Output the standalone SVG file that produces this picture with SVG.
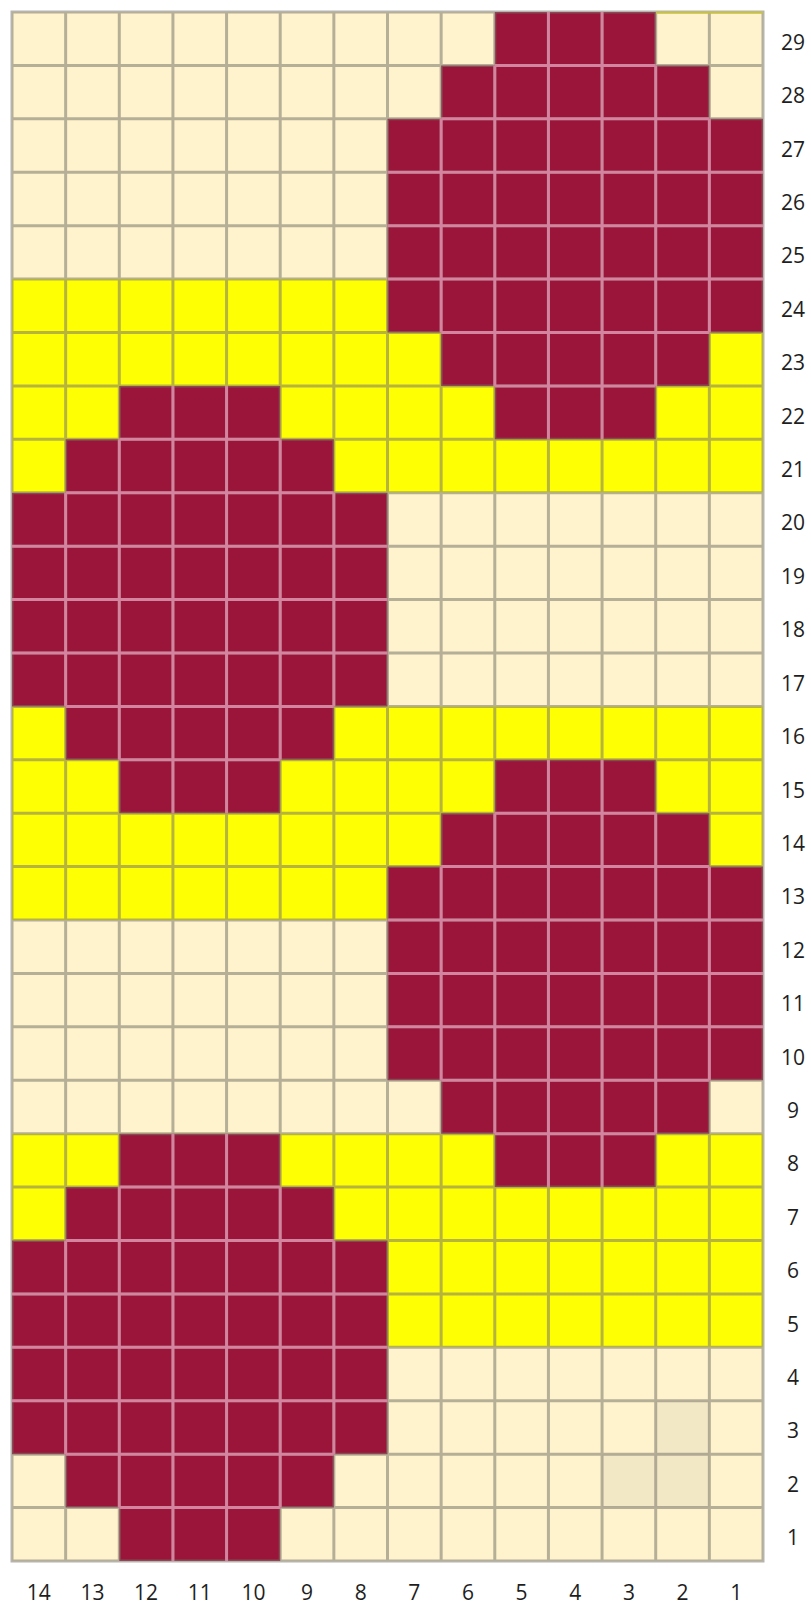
<svg xmlns="http://www.w3.org/2000/svg" xmlns:xlink="http://www.w3.org/1999/xlink" width="811" height="1605" viewBox="0 0 811 1605">
<style>
.cream{fill:#FFF3CD}
.yel{fill:#FFFF03}
.dark{fill:#F2E8C5}
.maroon{fill:#9A1539}
.grid{fill:none;stroke:#7a766c;stroke-opacity:0.55;stroke-width:3}
.pink{fill:none;stroke:#D3859F;stroke-width:3}
.lbl{font-family:"Open Sans","DejaVu Sans",sans-serif;font-size:21px;fill:#1e1e1e;text-anchor:middle}
</style>
<defs>
<polygon id="blobShape" points="107.29,0 268.21,0 268.21,53.41 321.86,53.41 321.86,106.83 375.5,106.83 375.5,320.48 321.86,320.48 321.86,373.9 268.21,373.9 268.21,427.31 107.29,427.31 107.29,373.9 53.64,373.9 53.64,320.48 0,320.48 0,106.83 53.64,106.83 53.64,53.41 107.29,53.41"/>
<path id="blobLines" d="M107.29,53.41H268.21M53.64,106.83H321.86M0,160.24H375.5M0,213.66H375.5M0,267.07H375.5M53.64,320.48H321.86M107.29,373.9H268.21M53.64,106.83V320.48M107.29,53.41V373.9M160.93,0V427.31M214.57,0V427.31M268.21,53.41V373.9M321.86,106.83V320.48"/>
</defs>
<g id="background">
<rect class="cream" x="12" y="12" width="751" height="267.07"/>
<rect class="yel" x="12" y="279.07" width="751" height="213.65"/>
<rect class="cream" x="12" y="492.72" width="751" height="213.66"/>
<rect class="yel" x="12" y="706.38" width="751" height="213.65"/>
<rect class="cream" x="12" y="920.03" width="751" height="213.66"/>
<rect class="yel" x="12" y="1133.69" width="751" height="213.65"/>
<rect class="cream" x="12" y="1347.34" width="751" height="213.66"/>
<path class="dark" d="M655.71,1400.76h53.65v106.83h-107.29v-53.42h53.64z"/>
</g>
<g id="blobs" class="maroon">
<use xlink:href="#blobShape" href="#blobShape" transform="translate(387.5,12)"/>
<use xlink:href="#blobShape" href="#blobShape" transform="translate(12,385.9)"/>
<use xlink:href="#blobShape" href="#blobShape" transform="translate(387.5,759.79)"/>
<use xlink:href="#blobShape" href="#blobShape" transform="translate(12,1133.69)"/>
</g>
<path id="gridlines" class="grid" d="M12,10.5V1562.5M65.64,12V1561M119.29,12V1561M172.93,12V1561M226.57,12V1561M280.21,12V1561M333.86,12V1561M387.5,12V1561M441.14,12V1561M494.79,12V1561M548.43,12V1561M602.07,12V1561M655.71,12V1561M709.36,12V1561M763,10.5V1562.5M13.5,12H761.5M13.5,65.41H761.5M13.5,118.83H761.5M13.5,172.24H761.5M13.5,225.66H761.5M13.5,279.07H761.5M13.5,332.48H761.5M13.5,385.9H761.5M13.5,439.31H761.5M13.5,492.72H761.5M13.5,546.14H761.5M13.5,599.55H761.5M13.5,652.97H761.5M13.5,706.38H761.5M13.5,759.79H761.5M13.5,813.21H761.5M13.5,866.62H761.5M13.5,920.03H761.5M13.5,973.45H761.5M13.5,1026.86H761.5M13.5,1080.28H761.5M13.5,1133.69H761.5M13.5,1187.1H761.5M13.5,1240.52H761.5M13.5,1293.93H761.5M13.5,1347.34H761.5M13.5,1400.76H761.5M13.5,1454.17H761.5M13.5,1507.59H761.5M13.5,1561H761.5"/>
<g id="blobGrid" class="pink">
<use xlink:href="#blobLines" href="#blobLines" transform="translate(387.5,12)"/>
<use xlink:href="#blobLines" href="#blobLines" transform="translate(12,385.9)"/>
<use xlink:href="#blobLines" href="#blobLines" transform="translate(387.5,759.79)"/>
<use xlink:href="#blobLines" href="#blobLines" transform="translate(12,1133.69)"/>
</g>
<line x1="656" y1="12.5" x2="763" y2="12.5" stroke="#C9C23C" stroke-width="2"/>
<g id="rowLabels" class="lbl">
<text x="793" y="49.71">29</text>
<text x="793" y="103.12">28</text>
<text x="793" y="156.54">27</text>
<text x="793" y="209.95">26</text>
<text x="793" y="263.37">25</text>
<text x="793" y="316.78">24</text>
<text x="793" y="370.19">23</text>
<text x="793" y="423.61">22</text>
<text x="793" y="477.02">21</text>
<text x="793" y="530.43">20</text>
<text x="793" y="583.85">19</text>
<text x="793" y="637.26">18</text>
<text x="793" y="690.68">17</text>
<text x="793" y="744.09">16</text>
<text x="793" y="797.5">15</text>
<text x="793" y="850.92">14</text>
<text x="793" y="904.33">13</text>
<text x="793" y="957.74">12</text>
<text x="793" y="1011.16">11</text>
<text x="793" y="1064.57">10</text>
<text x="793" y="1117.99">9</text>
<text x="793" y="1171.4">8</text>
<text x="793" y="1224.81">7</text>
<text x="793" y="1278.23">6</text>
<text x="793" y="1331.64">5</text>
<text x="793" y="1385.05">4</text>
<text x="793" y="1438.47">3</text>
<text x="793" y="1491.88">2</text>
<text x="793" y="1545.3">1</text>
</g>
<g id="colLabels" class="lbl">
<text x="38.8" y="1600">14</text>
<text x="92.5" y="1600">13</text>
<text x="146.1" y="1600">12</text>
<text x="199.75" y="1600">11</text>
<text x="253.4" y="1600">10</text>
<text x="307" y="1600">9</text>
<text x="360.7" y="1600">8</text>
<text x="414.3" y="1600">7</text>
<text x="468" y="1600">6</text>
<text x="521.6" y="1600">5</text>
<text x="575.25" y="1600">4</text>
<text x="628.9" y="1600">3</text>
<text x="682.5" y="1600">2</text>
<text x="736.2" y="1600">1</text>
</g>
</svg>
